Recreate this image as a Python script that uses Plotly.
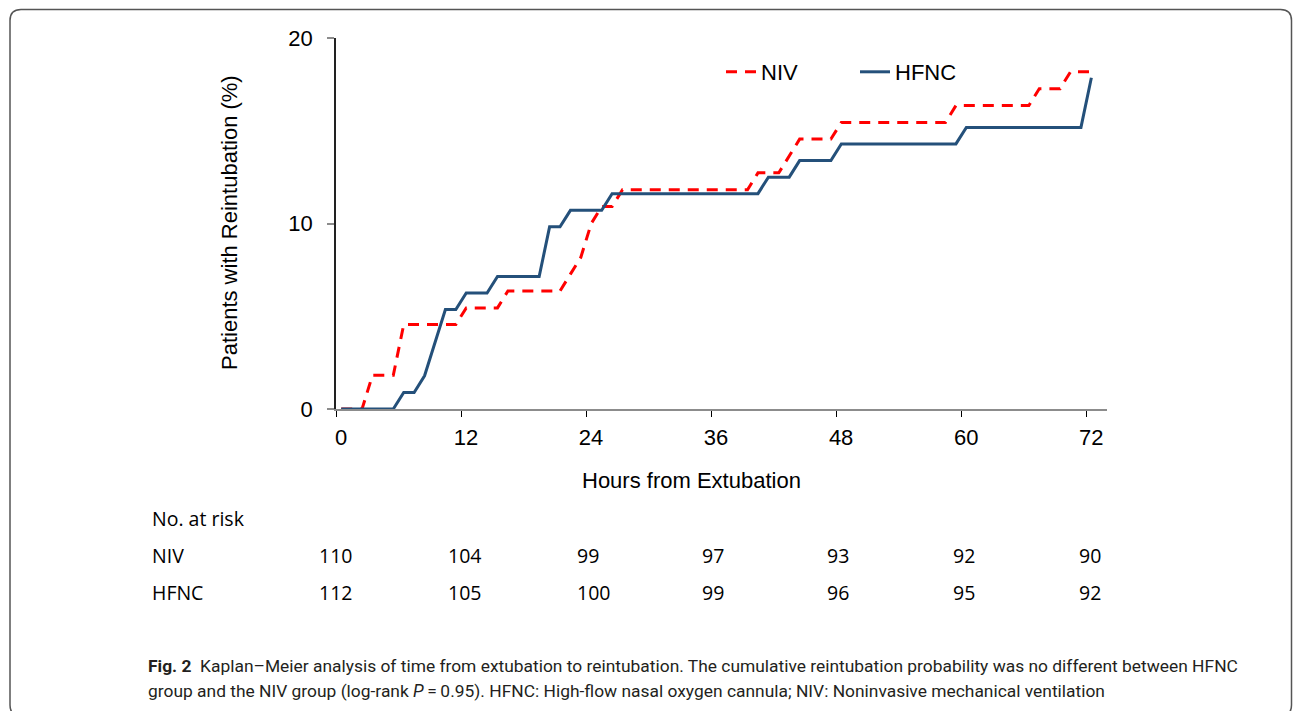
import plotly.graph_objects as go

# ---------------- data ----------------
niv_hours = [0, 2, 3, 5, 6, 11, 12, 15, 16, 21, 22, 23, 24, 25, 26, 27, 39, 40, 42, 43, 44,
             47, 48, 58, 59, 66, 67, 69, 70, 72]
niv_pct = [0, 0, 1.82, 1.82, 4.55, 4.55, 5.45, 5.45, 6.36, 6.36, 7.27, 8.18, 10.0, 10.91, 10.91,
           11.82, 11.82, 12.73, 12.73, 13.64, 14.55, 14.55, 15.45, 15.45, 16.36, 16.36, 17.27,
           17.27, 18.18, 18.18]

hfnc_hours = [0, 5, 6, 7, 8, 9, 10, 11, 12, 14, 15, 19, 20, 21, 22, 25, 26, 40, 41, 43, 44,
              47, 48, 59, 60, 71, 72]
hfnc_pct = [0, 0, 0.89, 0.89, 1.79, 3.57, 5.36, 5.36, 6.25, 6.25, 7.14, 7.14, 9.82, 9.82, 10.71,
            10.71, 11.61, 11.61, 12.5, 12.5, 13.39, 13.39, 14.29, 14.29, 15.18, 15.18, 17.86]

x_tick_labels = ["0", "12", "24", "36", "48", "60", "72"]
x_tick_hours = [0, 12, 24, 36, 48, 60, 72]
y_tick_vals = [0, 10, 20]

risk_groups = ["NIV", "HFNC"]
risk_niv = [110, 104, 99, 97, 93, 92, 90]
risk_hfnc = [112, 105, 100, 99, 96, 95, 92]

caption_line1 = ("<b>Fig. 2</b>  Kaplan–Meier analysis of time from extubation to reintubation. "
                 "The cumulative reintubation probability was no different between HFNC")
caption_line2 = ("group and the NIV group (log-rank <i>P</i>\u2009=\u20090.95). HFNC: High-flow nasal "
                 "oxygen cannula; NIV: Noninvasive mechanical ventilation")

# ---------------- layout geometry ----------------
W, H = 1295, 711
L, R, T, B = 336, 1295 - 1107, 38, 711 - 409
PW, PH = W - L - R, H - T - B


def px(xp):
    return (xp - L) / PW


def py(yp):
    return (T + PH - yp) / PH


AX_FONT = "Liberation Sans, Arial, sans-serif"
TBL_FONT = "Open Sans, sans-serif"
CAP_FONT = "Roboto, sans-serif"

fig = go.Figure()
fig.add_trace(go.Scatter(x=niv_hours, y=niv_pct, mode="lines", name="NIV",
                         line=dict(color="#FF0000", width=3, dash="11px,8px"),
                         legend="legend"))
fig.add_trace(go.Scatter(x=hfnc_hours, y=hfnc_pct, mode="lines", name="HFNC",
                         line=dict(color="#24507A", width=3),
                         legend="legend2"))

tickpos = [h - 0.5 for h in x_tick_hours]

fig.update_layout(
    width=W, height=H,
    margin=dict(l=L, r=R, t=T, b=B, autoexpand=False),
    paper_bgcolor="white", plot_bgcolor="white",
    font=dict(family=AX_FONT, size=22, color="black"),
    xaxis=dict(range=[-0.5, 73.5], tickvals=tickpos, ticktext=x_tick_labels,
               ticklabelshift=5, ticks="outside", ticklen=6, tickwidth=1.2,
               tickcolor="black", showline=True, linecolor="#8C8C8C", linewidth=2,
               showgrid=False, zeroline=False, ticklabelstandoff=2,
               tickfont=dict(family=AX_FONT, size=22, color="black")),
    yaxis=dict(range=[0, 20], tickvals=y_tick_vals, ticks="outside", ticklen=7,
               tickcolor="#8C8C8C", tickwidth=1.5, showline=True, linecolor="#222222",
               linewidth=1.5, showgrid=False, zeroline=False, ticklabelstandoff=10,
               tickfont=dict(family=AX_FONT, size=22, color="black")),
    legend=dict(x=px(721), y=py(72), xanchor="left", yanchor="middle",
                orientation="h", bgcolor="rgba(0,0,0,0)",
                font=dict(family=AX_FONT, size=22, color="black")),
    legend2=dict(x=px(855), y=py(72), xanchor="left", yanchor="middle",
                 orientation="h", bgcolor="rgba(0,0,0,0)",
                 font=dict(family=AX_FONT, size=22, color="black")),
    showlegend=True,
)

ann = []
# axis titles
ann.append(dict(x=px(229), y=py(223), xref="paper", yref="paper", text="Patients with Reintubation (%)",
                showarrow=False, textangle=-90, xanchor="center", yanchor="middle",
                font=dict(family=AX_FONT, size=22, color="black")))
ann.append(dict(x=px(691), y=py(480), xref="paper", yref="paper", text="Hours from Extubation",
                showarrow=False, xanchor="center", yanchor="middle",
                font=dict(family=AX_FONT, size=22, color="black")))

# number at risk table
TBL_SIZE = 19.5
ann.append(dict(x=px(150), y=py(518), xref="paper", yref="paper", text="No. at risk",
                showarrow=False, xanchor="left", yanchor="middle",
                font=dict(family=TBL_FONT, size=TBL_SIZE, color="black")))
col_left = [317, 446, 575, 700, 825, 951, 1077]
for row_y, name, vals in [(555, risk_groups[0], risk_niv), (592, risk_groups[1], risk_hfnc)]:
    ann.append(dict(x=px(150), y=py(row_y), xref="paper", yref="paper", text=name,
                    showarrow=False, xanchor="left", yanchor="middle",
                    font=dict(family=TBL_FONT, size=TBL_SIZE, color="black")))
    for cx, v in zip(col_left, vals):
        ann.append(dict(x=px(cx), y=py(row_y), xref="paper", yref="paper", text=str(v),
                        showarrow=False, xanchor="left", yanchor="middle",
                        font=dict(family=TBL_FONT, size=TBL_SIZE, color="black")))

# caption
ann.append(dict(x=px(146), y=py(666), xref="paper", yref="paper", text=caption_line1,
                showarrow=False, xanchor="left", yanchor="middle",
                font=dict(family=CAP_FONT, size=17.4, color="#231F20")))
ann.append(dict(x=px(146), y=py(691), xref="paper", yref="paper", text=caption_line2,
                showarrow=False, xanchor="left", yanchor="middle",
                font=dict(family=CAP_FONT, size=17.4, color="#231F20")))
fig.update_layout(annotations=ann)

# rounded border (bottom edge runs just past the visible page)
x0, x1, y0, y1, r = 10, 1291.5, 9.5, 716, 11
path = (f"M {px(x0 + r)},{py(y0)} L {px(x1 - r)},{py(y0)} "
        f"Q {px(x1)},{py(y0)} {px(x1)},{py(y0 + r)} L {px(x1)},{py(y1 - r)} "
        f"Q {px(x1)},{py(y1)} {px(x1 - r)},{py(y1)} L {px(x0 + r)},{py(y1)} "
        f"Q {px(x0)},{py(y1)} {px(x0)},{py(y1 - r)} L {px(x0)},{py(y0 + r)} "
        f"Q {px(x0)},{py(y0)} {px(x0 + r)},{py(y0)} Z")
fig.add_shape(type="path", path=path, xref="paper", yref="paper",
              line=dict(color="#555555", width=1.5), layer="below")

fig.write_html("out.html", config={"displayModeBar": False})

# remove the browser's default page margin so the figure sits at (0, 0)
with open("out.html", "r", encoding="utf-8") as f:
    html = f.read()
html = html.replace("<head>", "<head><style>html,body{margin:0;padding:0;overflow:hidden;}</style>", 1)
with open("out.html", "w", encoding="utf-8") as f:
    f.write(html)
